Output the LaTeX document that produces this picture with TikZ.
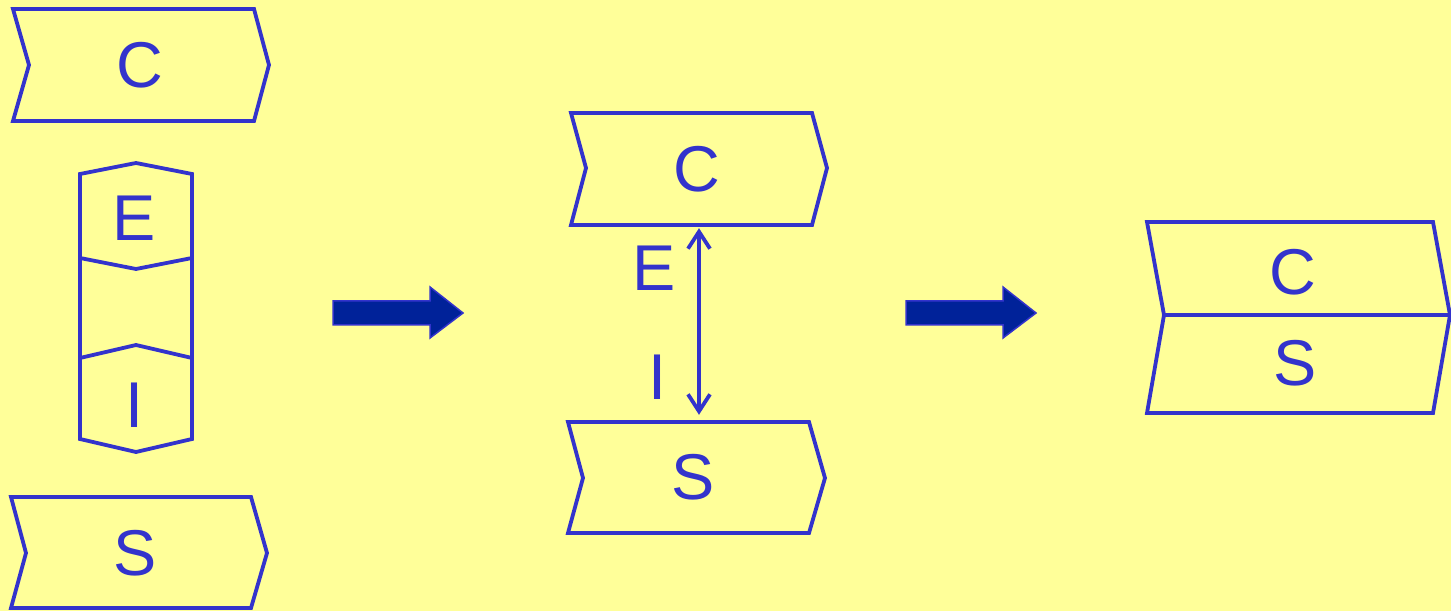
\documentclass[tikz,border=0pt]{standalone}
\usepackage{fontspec}
\setmainfont{Liberation Sans}
\usetikzlibrary{arrows.meta}
\definecolor{lineblue}{HTML}{3333CC}
\definecolor{bgyellow}{HTML}{FFFF99}
\definecolor{arrowblue}{HTML}{002299}
\begin{document}
\begin{tikzpicture}[>={Straight Barb[length=17bp,width=22bp]},line join=miter,
  box/.style={draw=lineblue,line width=3.8bp},
  lbl/.style={draw=none,inner sep=0pt,text=lineblue,font=\fontsize{65}{78}\selectfont},
  bigarrow/.style={fill=arrowblue,draw=lineblue,line width=1.5bp},]
%%
\fill[bgyellow] (0bp,0bp) rectangle (1451bp,611bp);
\useasboundingbox (0bp,0bp) rectangle (1451bp,611bp);
%% left column
\draw [box] (13bp,602bp) -- (254bp,602bp) -- (269bp,546bp) -- (254bp,490bp) -- (13bp,490bp) -- (29bp,546bp) -- cycle;
\draw [box] (80bp,437bp) -- (136bp,448bp) -- (192bp,437bp) -- (192bp,172bp) -- (136bp,159bp) -- (80bp,172bp) -- cycle;
\draw [box] (80bp,353bp) -- (136bp,342bp) -- (192bp,353bp);
\draw [box] (80bp,253bp) -- (136bp,266bp) -- (192bp,253bp);
\draw [box] (11bp,114bp) -- (251bp,114bp) -- (267bp,58bp) -- (251bp,3bp) -- (11bp,3bp) -- (26bp,58bp) -- cycle;
\node (left_c) at (140bp,546bp) [lbl] {C};
  \node (left_e) at (134bp,393bp) [lbl] {E};
  \node (left_i) at (134bp,206bp) [lbl] {I};
  \node (left_s) at (135bp,58bp) [lbl] {S};
%% middle column
\draw [box] (571bp,498bp) -- (812bp,498bp) -- (827bp,443bp) -- (812bp,386bp) -- (571bp,386bp) -- (586bp,443bp) -- cycle;
\draw [box] (568bp,189bp) -- (809bp,189bp) -- (825bp,133bp) -- (809bp,78bp) -- (568bp,78bp) -- (583bp,133bp) -- cycle;
\node (mid_c) at (699bp,442bp) [lbl,minimum height=112bp] {\hspace*{-4bp}C};
  \node (mid_s) at (699bp,133.5bp) [lbl,minimum height=111bp] {\hspace*{-12bp}S};
  \node (mid_e) at (654bp,343bp) [lbl] {E};
  \node (mid_i) at (657bp,234bp) [lbl] {I};
  \draw [lineblue,line width=3.8bp,<->,shorten <=3bp,shorten >=7bp] (mid_c.south) -- (mid_s.north);
%% right column
\draw [box] (1147bp,389bp) -- (1433bp,389bp) -- (1450bp,296bp) -- (1164bp,296bp) -- cycle;
\draw [box] (1164bp,296bp) -- (1450bp,296bp) -- (1433bp,198bp) -- (1147bp,198bp) -- cycle;
\node (right_c) at (1293bp,339bp) [lbl] {C};
  \node (right_s) at (1295bp,248bp) [lbl] {S};
%% thick arrows
\draw [bigarrow] (333bp,310bp) -- (430bp,310bp) -- (430bp,324bp) -- (463bp,298bp) -- (430bp,273bp) -- (430bp,286bp) -- (333bp,286bp) -- cycle;
\draw [bigarrow] (906bp,310bp) -- (1003bp,310bp) -- (1003bp,324bp) -- (1036bp,298bp) -- (1003bp,273bp) -- (1003bp,286bp) -- (906bp,286bp) -- cycle;
%
\end{tikzpicture}
\end{document}
